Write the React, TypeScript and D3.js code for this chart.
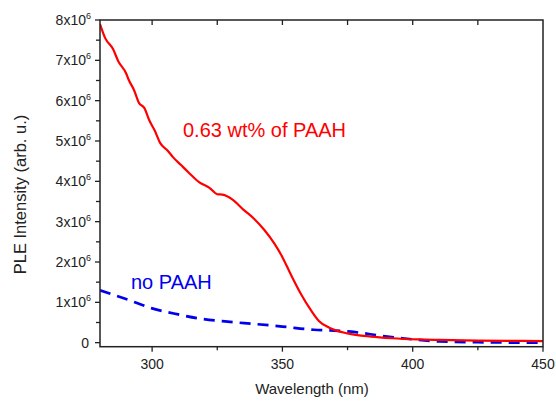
import React from "react";
import * as d3 from "d3";

const redWavelengths = [280, 282, 285, 287, 290, 291, 293, 295, 297, 299, 301, 303, 306, 308, 311, 314, 318, 322, 325, 327, 331, 335, 339, 343, 347, 350, 353, 357, 361, 364, 368, 375, 384, 392, 402, 410, 425, 450];
const redValues = [7.9, 7.55, 7.28, 6.98, 6.68, 6.52, 6.27, 5.94, 5.82, 5.5, 5.26, 4.96, 4.76, 4.6, 4.41, 4.22, 3.98, 3.84, 3.68, 3.67, 3.54, 3.3, 3.08, 2.8, 2.45, 2.12, 1.72, 1.22, 0.8, 0.54, 0.37, 0.23, 0.15, 0.11, 0.08, 0.067, 0.05, 0.04];

const blueWavelengths = [280, 291, 300, 310, 319, 329, 340, 350, 362, 370, 378, 388, 396, 410, 425, 450];
const blueValues = [1.3, 1.06, 0.85, 0.7, 0.59, 0.52, 0.46, 0.4, 0.32, 0.3, 0.26, 0.17, 0.11, 0.03, 0.01, 0.0];

const xMajorTicks = [300, 350, 400, 450];
const xMinorTicks = [325, 375, 425];
const yMajorTicks = [0, 1, 2, 3, 4, 5, 6, 7, 8];
const yMinorTicks = [0.5, 1.5, 2.5, 3.5, 4.5, 5.5, 6.5, 7.5];

const seriesLabels = ["0.63 wt% of PAAH", "no PAAH"];

const W = 556, H = 401;
const left = 100, right = 543, top = 20, bottom = 346.7;

export default function App() {
  const x = d3.scaleLinear().domain([280, 450]).range([left, right]);
  const y = d3.scaleLinear().domain([-0.1, 8]).range([bottom, top]);

  const red = redWavelengths.map((w, i) => [w, redValues[i]] as [number, number]);
  const blue = blueWavelengths.map((w, i) => [w, blueValues[i]] as [number, number]);

  const redLine = d3.line<[number, number]>().x(d => x(d[0])).y(d => y(d[1])).curve(d3.curveMonotoneX);
  const blueLine = d3.line<[number, number]>().x(d => x(d[0])).y(d => y(d[1])).curve(d3.curveMonotoneX);

  const font = "Liberation Sans, Arial, sans-serif";
  const axisColor = "#222";

  return (
    <svg width={W} height={H} style={{ position: "absolute", left: 0, top: 0, background: "#fff" }} fontFamily={font}>
      <defs>
        <clipPath id="plot">
          <rect x={left} y={top} width={right - left} height={bottom - top} />
        </clipPath>
      </defs>
      <g clipPath="url(#plot)">
        <path d={blueLine(blue) || ""} fill="none" stroke="#0000ee" strokeWidth={2.7} strokeDasharray="11,7" />
        <path d={redLine(red) || ""} fill="none" stroke="#ff0000" strokeWidth={2.2} />
      </g>
      {/* frame */}
      <rect x={left} y={top} width={right - left} height={bottom - top} fill="none" stroke={axisColor} strokeWidth={1.5} />
      {/* bottom ticks */}
      {xMajorTicks.map(t => (
        <line key={"xb" + t} x1={x(t)} x2={x(t)} y1={bottom} y2={bottom + 5} stroke={axisColor} strokeWidth={1.3} />
      ))}
      {xMinorTicks.map(t => (
        <line key={"xbm" + t} x1={x(t)} x2={x(t)} y1={bottom} y2={bottom + 3.5} stroke={axisColor} strokeWidth={1.3} />
      ))}
      {/* top ticks */}
      {[...xMajorTicks, ...xMinorTicks].filter(t => t < 450).map(t => (
        <line key={"xt" + t} x1={x(t)} x2={x(t)} y1={top} y2={top + 5} stroke={axisColor} strokeWidth={1.3} />
      ))}
      {/* left ticks */}
      {yMajorTicks.map(t => (
        <line key={"yl" + t} x1={left - 5} x2={left} y1={y(t)} y2={y(t)} stroke={axisColor} strokeWidth={1.3} />
      ))}
      {yMinorTicks.map(t => (
        <line key={"ylm" + t} x1={left - 4} x2={left} y1={y(t)} y2={y(t)} stroke={axisColor} strokeWidth={1.3} />
      ))}
      {/* x tick labels */}
      {xMajorTicks.map(t => (
        <text key={"xl" + t} x={x(t)} y={369} textAnchor="middle" fontSize={14} fill="#222">{t}</text>
      ))}
      {/* y tick labels */}
      {yMajorTicks.map(t => (
        t === 0 ? (
          <text key={"ylab" + t} x={89} y={y(t) + 5} textAnchor="end" fontSize={14} fill="#222">0</text>
        ) : (
          <text key={"ylab" + t} x={91} y={y(t) + 5} textAnchor="end" fontSize={14} fill="#222">
            {t}x10<tspan fontSize={9} dy={-6}>6</tspan>
          </text>
        )
      ))}
      {/* axis titles */}
      <text x={312} y={394} textAnchor="middle" fontSize={15} fill="#222">Wavelength (nm)</text>
      <text transform={`translate(26,${(110 + 279) / 2}) rotate(-90)`} textAnchor="middle" fontSize={16.5} fill="#222">PLE Intensity (arb. u.)</text>
      {/* annotations */}
      <text x={183} y={137} fontSize={20} fill="#ff0000">{seriesLabels[0]}</text>
      <text x={131} y={289} fontSize={20} fill="#0000ee">{seriesLabels[1]}</text>
    </svg>
  );
}
